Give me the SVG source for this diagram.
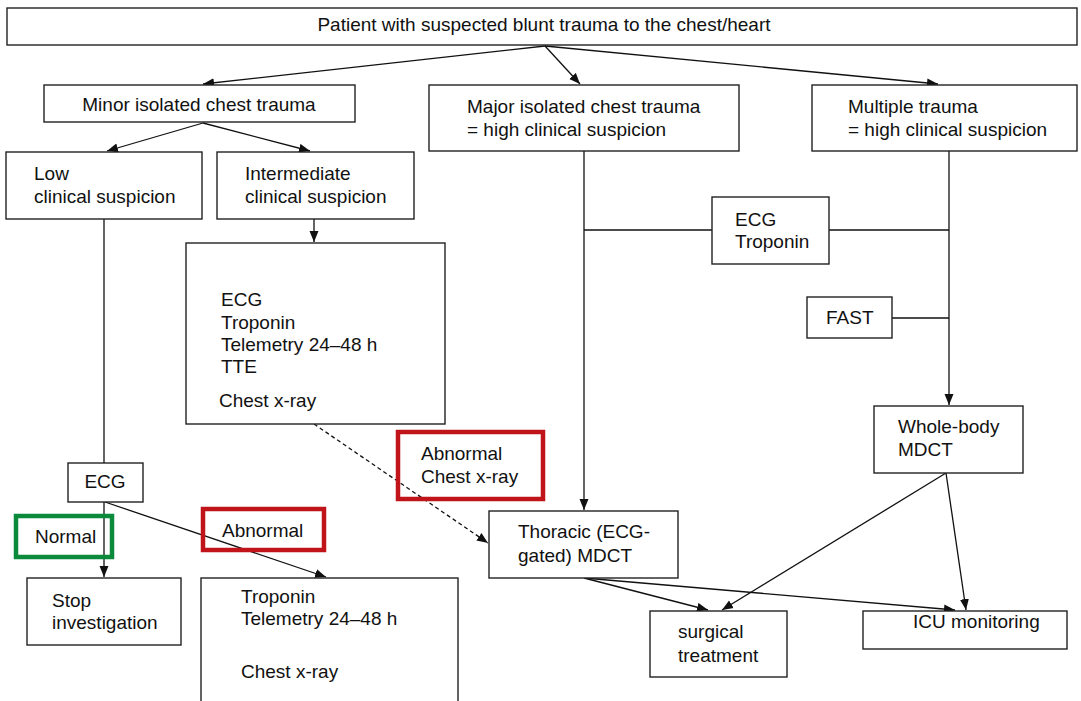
<svg xmlns="http://www.w3.org/2000/svg" width="1081" height="701" viewBox="0 0 1081 701">
<style>
.box{fill:#fff;stroke:#222;stroke-width:1.4}
.hl-red{fill:none;stroke:#c0141a;stroke-width:4.5}
.hl-green{fill:none;stroke:#0b8a3c;stroke-width:4.5}
text{font-family:"Liberation Sans",Arial,sans-serif;font-size:19px;fill:#111}
.c{stroke:#111;stroke-width:1.3;fill:none}
.a{marker-end:url(#arr)}
.d{stroke-dasharray:4 3}
</style>
<defs>
<marker id="arr" markerUnits="userSpaceOnUse" markerWidth="12" markerHeight="10" viewBox="0 0 12 10" refX="11" refY="5" orient="auto">
<path d="M0,0.5 L11,5 L0,9.5 Z" fill="#111"/>
</marker>
</defs>
<rect width="1081" height="701" fill="#fff"/>

<g id="connectors">
<line class="c a" x1="545" y1="46" x2="203" y2="84"/>
<line class="c a" x1="545" y1="46" x2="580" y2="84"/>
<line class="c a" x1="545" y1="46" x2="938" y2="84"/>
<line class="c a" x1="203" y1="123" x2="107" y2="151"/>
<line class="c a" x1="203" y1="123" x2="310" y2="151"/>
<line class="c a" x1="314" y1="219" x2="314" y2="242"/>
<line class="c" x1="104" y1="219" x2="104" y2="463"/>
<line class="c a" x1="104" y1="502" x2="104" y2="577"/>
<line class="c a" x1="105" y1="502" x2="326" y2="577"/>
<line class="c d a" x1="314" y1="424" x2="488" y2="543"/>
<line class="c a" x1="584" y1="151" x2="584" y2="510"/>
<line class="c" x1="584" y1="230" x2="712" y2="230"/>
<line class="c" x1="829" y1="230" x2="949" y2="230"/>
<line class="c a" x1="949" y1="151" x2="949" y2="405"/>
<line class="c" x1="892" y1="318" x2="949" y2="318"/>
<line class="c a" x1="584" y1="578" x2="708" y2="610"/>
<line class="c a" x1="584" y1="578" x2="955" y2="610"/>
<line class="c a" x1="946" y1="473" x2="722" y2="610"/>
<line class="c a" x1="946" y1="473" x2="966" y2="610"/>
</g>

<g id="n-top"><rect class="box" x="7" y="8" width="1070" height="37"/>
<text x="544" y="31" text-anchor="middle">Patient with suspected blunt trauma to the chest/heart</text></g>

<g id="n-minor"><rect class="box" x="44" y="85" width="311" height="37"/>
<text x="199" y="111" text-anchor="middle">Minor isolated chest trauma</text></g>

<g id="n-major"><rect class="box" x="429" y="85" width="310" height="66"/>
<text x="467" y="113">Major isolated chest trauma</text><text x="467" y="136">= high clinical suspicion</text></g>

<g id="n-multiple"><rect class="box" x="812" y="85" width="265" height="66"/>
<text x="848" y="113">Multiple trauma</text><text x="848" y="136">= high clinical suspicion</text></g>

<g id="n-low"><rect class="box" x="6" y="152" width="196" height="67"/>
<text x="34" y="180">Low</text><text x="34" y="203">clinical suspicion</text></g>

<g id="n-intermediate"><rect class="box" x="217" y="152" width="197" height="67"/>
<text x="245" y="180">Intermediate</text><text x="245" y="203">clinical suspicion</text></g>

<g id="n-tests"><rect class="box" x="186" y="243" width="259" height="181"/>
<text x="221" y="306">ECG</text><text x="221" y="329">Troponin</text><text x="221" y="351">Telemetry 24–48 h</text><text x="221" y="373">TTE</text><text x="219" y="407">Chest x-ray</text></g>

<g id="n-ecgtrop"><rect class="box" x="712" y="197" width="117" height="67"/>
<text x="735" y="226">ECG</text><text x="735" y="248">Troponin</text></g>

<g id="n-fast"><rect class="box" x="807" y="297" width="85" height="41"/>
<text x="826" y="324">FAST</text></g>

<g id="n-wholebody"><rect class="box" x="874" y="406" width="149" height="67"/>
<text x="898" y="433">Whole-body</text><text x="898" y="456">MDCT</text></g>

<g id="n-ecg"><rect class="box" x="68" y="463" width="75" height="39"/>
<text x="105" y="488" text-anchor="middle">ECG</text></g>

<g id="n-abn-cxr"><rect class="hl-red" x="398" y="432" width="145" height="67"/>
<text x="421" y="460">Abnormal</text><text x="421" y="483">Chest x-ray</text></g>

<g id="n-normal"><rect class="hl-green" x="16" y="516" width="96" height="41"/>
<text x="35" y="543">Normal</text></g>

<g id="n-abnormal"><rect class="hl-red" x="203" y="509" width="121" height="41"/>
<text x="222" y="537">Abnormal</text></g>

<g id="n-thoracic"><rect class="box" x="489" y="511" width="189" height="67"/>
<text x="518" y="538">Thoracic (ECG-</text><text x="518" y="562">gated) MDCT</text></g>

<g id="n-stop"><rect class="box" x="27" y="578" width="154" height="67"/>
<text x="52" y="607">Stop</text><text x="52" y="629">investigation</text></g>

<g id="n-monitor"><rect class="box" x="201" y="578" width="257" height="130"/>
<text x="241" y="603">Troponin</text><text x="241" y="625">Telemetry 24–48 h</text><text x="241" y="678">Chest x-ray</text></g>

<g id="n-surgical"><rect class="box" x="650" y="611" width="137" height="66"/>
<text x="678" y="638">surgical</text><text x="678" y="662">treatment</text></g>

<g id="n-icu"><rect class="box" x="863" y="611" width="204" height="38"/>
<text x="913" y="628">ICU monitoring</text></g>
</svg>
